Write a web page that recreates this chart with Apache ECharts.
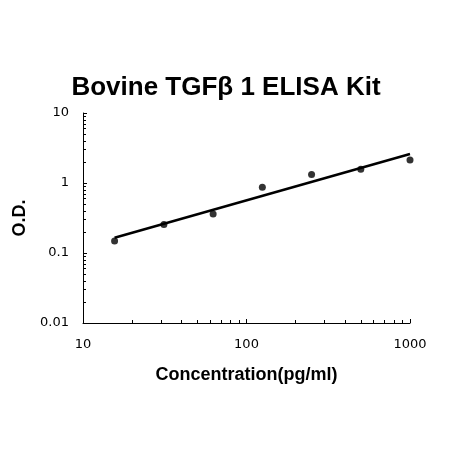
<!DOCTYPE html>
<html>
<head>
<meta charset="utf-8">
<script src="https://cdn.jsdelivr.net/npm/echarts@6/dist/echarts.min.js"></script>
<style>html,body{margin:0;background:#fff}#c{width:452px;height:451px}</style>
</head>
<body>
<div id="c"></div>
<script>
// standards (pg/ml) and measured O.D.
const concentrations = [15.6, 31.25, 62.5, 125, 250, 500, 1000]
const odValues = [0.148, 0.255, 0.36, 0.87, 1.32, 1.57, 2.13]
// fitted curve end points
const fitX = [15.6, 1000]
const fitY = [0.165, 2.6]

const chart = echarts.init(document.getElementById('c'))
const axisFont = { fontFamily: 'DejaVu Sans', fontSize: 13, color: '#000' }

chart.setOption({
  animation: false,
  title: {
    text: 'Bovine TGFβ 1 ELISA Kit',
    left: 'center', top: 70,
    textStyle: { fontFamily: 'Liberation Sans', fontWeight: 'bold', fontSize: 26, color: '#000' }
  },
  grid: { left: 83, right: 42, top: 113, bottom: 128 },
  xAxis: {
    type: 'log', logBase: 10, min: 10, max: 1000,
    name: 'Concentration(pg/ml)', nameLocation: 'middle', nameGap: 43,
    nameTextStyle: { fontFamily: 'Liberation Sans', fontWeight: 'bold', fontSize: 18, color: '#000' },
    axisLine: { lineStyle: { color: '#000' } },
    axisTick: { inside: true, length: 4, lineStyle: { color: '#000' } },
    minorTick: { show: true, splitNumber: 9, length: 3, lineStyle: { color: '#000' } },
    axisLabel: Object.assign({ margin: 15, formatter: v => String(Math.round(v)) }, axisFont),
    splitLine: { show: false }
  },
  yAxis: {
    type: 'log', logBase: 10, min: 0.01, max: 10,
    name: 'O.D.', nameLocation: 'middle', nameGap: 42,
    nameTextStyle: { fontFamily: 'Liberation Sans', fontWeight: 'bold', fontSize: 18, color: '#000' },
    axisLine: { lineStyle: { color: '#000' } },
    axisTick: { inside: true, length: 4, lineStyle: { color: '#000' } },
    minorTick: { show: true, splitNumber: 9, length: 3, lineStyle: { color: '#000' } },
    axisLabel: Object.assign({ margin: 14, formatter: v => String(+v.toPrecision(2)) }, axisFont),
    splitLine: { show: false }
  },
  series: [
    {
      type: 'line', data: fitX.map((x, i) => [x, fitY[i]]),
      showSymbol: false, lineStyle: { color: '#000', width: 2.5 }
    },
    {
      type: 'scatter', data: concentrations.map((x, i) => [x, odValues[i]]),
      symbolSize: 7, itemStyle: { color: '#000' }
    }
  ]
})
</script>
</body>
</html>
